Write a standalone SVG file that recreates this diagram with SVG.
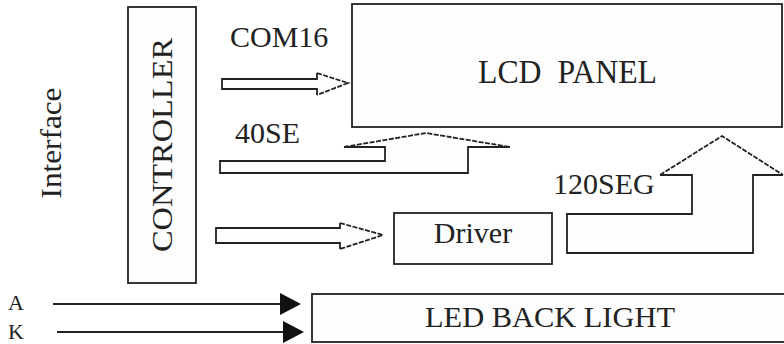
<svg xmlns="http://www.w3.org/2000/svg" width="784" height="344" viewBox="0 0 784 344">
<style>
.box{fill:#fdfdfd;stroke:#222;stroke-width:1.8}
.t{fill:#222}
.fill{fill:#fdfdfd;stroke:none}
.solid{fill:none;stroke:#222;stroke-width:1.8;stroke-linejoin:miter}
.dash{fill:none;stroke:#222;stroke-width:1.8;stroke-dasharray:5 1.5}
.line{stroke:#222;stroke-width:2}
.head{fill:#111}
</style>
<rect width="784" height="344" fill="#ffffff"/>
<g font-family="Liberation Serif, Times New Roman, DejaVu Serif, serif">
<g id="interface">
<text class="t" font-size="30" transform="translate(61,143) rotate(-90)" text-anchor="middle" textLength="111" lengthAdjust="spacingAndGlyphs">Interface</text>
</g>
<g id="controller">
<rect class="box" x="128" y="7" width="68" height="276"/>
<text class="t" font-size="30" transform="translate(172,145) rotate(-90)" text-anchor="middle" textLength="214" lengthAdjust="spacingAndGlyphs">CONTROLLER</text>
</g>
<g id="lcd-panel">
<rect class="box" x="352" y="4" width="430" height="123"/>
<text class="t" font-size="34" x="478" y="83" textLength="179" lengthAdjust="spacingAndGlyphs" xml:space="preserve">LCD  PANEL</text>
</g>
<g id="driver">
<rect class="box" x="394" y="213" width="158" height="51"/>
<text class="t" font-size="30" x="473" y="243" text-anchor="middle">Driver</text>
</g>
<g id="led-backlight">
<rect class="box" x="312" y="294" width="480" height="48"/>
<text class="t" font-size="30" x="550" y="327" text-anchor="middle" textLength="250" lengthAdjust="spacingAndGlyphs">LED BACK LIGHT</text>
</g>
<g id="connectors">
<polygon class="fill" points="222,79 317,79 317,73 348,83 317,95 317,89 222,89"/>
<path class="solid" d="M317,73 L317,79 L222,79 L222,89 L317,89 L317,95"/>
<path class="dash" d="M317,73 L348,83 L317,95"/>
<text class="t" font-size="30" x="230" y="47">COM16</text>
<polygon class="fill" points="220,161 385,161 385,147 344,147 426,133 510,147 468,147 468,173 220,173"/>
<path class="solid" d="M344,147 L385,147 L385,161 L220,161 L220,173 L468,173 L468,147 L510,147"/>
<path class="dash" d="M344,147 L426,133 L510,147"/>
<text class="t" font-size="30" x="235" y="143">40SE</text>
<polygon class="fill" points="567,214 692,214 692,175 660,175 722,136 783,175 753,175 753,253 567,253"/>
<path class="solid" d="M660,175 L692,175 L692,214 L567,214 L567,253 L753,253 L753,175 L783,175"/>
<path class="dash" d="M660,175 L722,136 L783,175"/>
<text class="t" font-size="30" x="553" y="194">120SEG</text>
<polygon class="fill" points="216,228 340,228 340,223 383,235 340,249 340,243 216,243"/>
<path class="solid" d="M340,223 L340,228 L216,228 L216,243 L340,243 L340,249"/>
<path class="dash" d="M340,223 L383,235 L340,249"/>
<line class="line" x1="53" y1="304" x2="282" y2="304"/>
<polygon class="head" points="280,293 301,304 280,315"/>
<line class="line" x1="57" y1="332" x2="284" y2="332"/>
<polygon class="head" points="283,321 304,332 283,343"/>
<text class="t" font-size="22" x="8" y="310">A</text>
<text class="t" font-size="22" x="8" y="339">K</text>
</g>
</g>
</svg>
